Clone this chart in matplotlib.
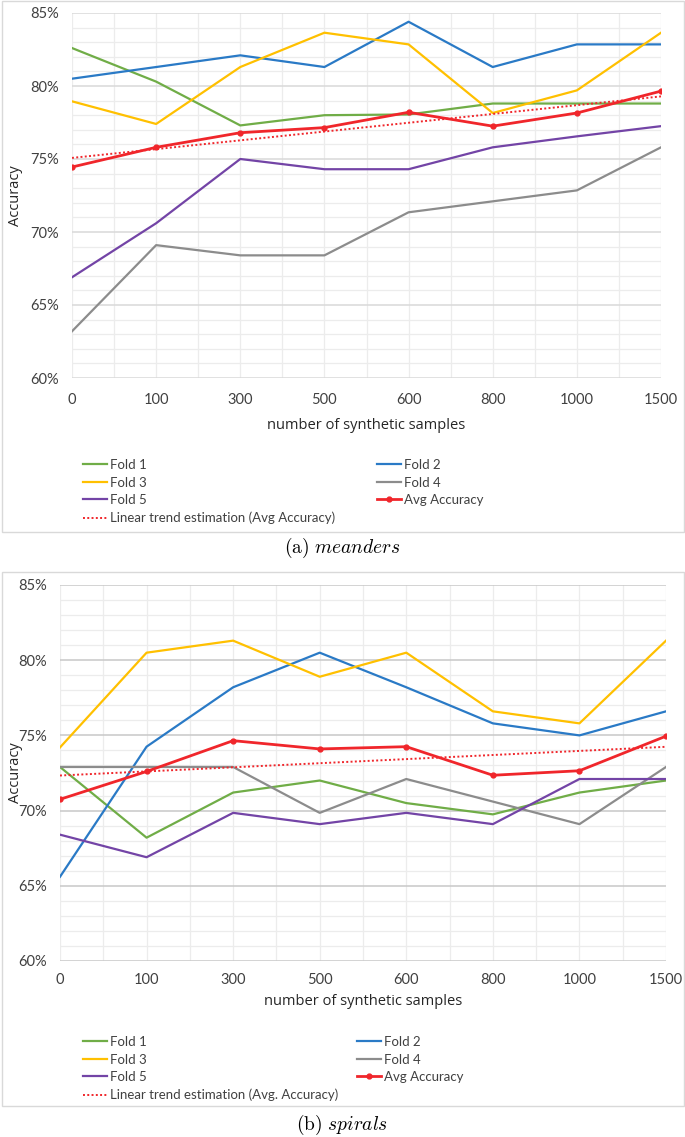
import numpy as np
import matplotlib
matplotlib.use("Agg")
import matplotlib.pyplot as plt
from matplotlib.patches import Rectangle
from matplotlib.ticker import MultipleLocator, FuncFormatter

plt.rcParams['mathtext.fontset'] = 'cm'

# ---------------- data ----------------
categories = ["0", "100", "300", "500", "600", "800", "1000", "1500"]

# (a) meanders
m_fold1 = [82.6, 80.3, 77.3, 78.0, 78.05, 78.8, 78.8, 78.8]
m_fold2 = [80.5, 81.3, 82.1, 81.3, 84.4, 81.3, 82.85, 82.85]
m_fold3 = [78.95, 77.4, 81.3, 83.65, 82.85, 78.15, 79.7, 83.65]
m_fold4 = [63.2, 69.1, 68.4, 68.4, 71.35, 72.1, 72.85, 75.8]
m_fold5 = [66.9, 70.6, 75.0, 74.3, 74.3, 75.8, 76.55, 77.25]
m_avg = [74.45, 75.8, 76.8, 77.15, 78.2, 77.25, 78.15, 79.65]

# (b) spirals
s_fold1 = [72.9, 68.2, 71.2, 72.0, 70.5, 69.75, 71.2, 72.0]
s_fold2 = [65.6, 74.25, 78.2, 80.5, 78.2, 75.8, 75.0, 76.6]
s_fold3 = [74.2, 80.5, 81.3, 78.9, 80.5, 76.6, 75.8, 81.3]
s_fold4 = [72.9, 72.9, 72.9, 69.85, 72.1, 70.6, 69.1, 72.9]
s_fold5 = [68.4, 66.9, 69.85, 69.1, 69.85, 69.1, 72.1, 72.1]
s_avg = [70.75, 72.6, 74.65, 74.1, 74.25, 72.35, 72.65, 74.95]

yticks = [60, 65, 70, 75, 80, 85]

# ---------------- styling ----------------
C_GREEN = "#70ad47"
C_BLUE = "#2a7ac6"
C_YELLOW = "#ffc000"
C_GRAY = "#8c8c8c"
C_PURPLE = "#7344a6"
C_RED = "#f0262b"

W, H = 685, 1137
fig = plt.figure(figsize=(W / 100, H / 100), dpi=100)


def fx(px):
    return px / W


def fy(py):
    return 1 - py / H


def panel(ax_box, folds, avg, trend_label, major_grid, leg_y, col_spacing,
          border, caption, cap_y, tick_pad_x, xlab_pad):
    l, t, r, b = ax_box
    ax = fig.add_axes([fx(l), fy(b), fx(r - l), (b - t) / H])
    x = np.arange(len(categories))
    names = ["Fold 1", "Fold 2", "Fold 3", "Fold 4", "Fold 5"]
    colors = [C_GREEN, C_BLUE, C_YELLOW, C_GRAY, C_PURPLE]
    handles = {}
    for name, vals, c in zip(names, folds, colors):
        h, = ax.plot(x, vals, color=c, lw=1.6, label=name, zorder=3)
        handles[name] = h
    h_avg, = ax.plot(x, avg, color=C_RED, lw=2.0, marker='o', ms=3.5,
                     label="Avg Accuracy", zorder=5)
    coef = np.polyfit(x, avg, 1)
    h_tr, = ax.plot(x, np.polyval(coef, x), color=C_RED, lw=1.4,
                    linestyle=(0, (1, 1.2)), label=trend_label, zorder=4)

    ax.set_xlim(0, len(categories) - 1)
    ax.set_ylim(60, 85)
    ax.set_xticks(x)
    ax.set_xticklabels(categories)
    ax.xaxis.set_minor_locator(MultipleLocator(0.5))
    ax.set_yticks(yticks)
    ax.yaxis.set_major_formatter(FuncFormatter(lambda v, p: f"{v:.0f}%"))
    ax.yaxis.set_minor_locator(MultipleLocator(1))
    ax.grid(True, which='minor', color='#ececec', lw=0.9, zorder=0)
    ax.grid(True, which='major', axis='x', color='#ececec', lw=0.9, zorder=0)
    ax.grid(True, which='major', axis='y', color=major_grid, lw=1.1, zorder=1)
    for s in ax.spines.values():
        s.set_visible(False)
    ax.tick_params(which='both', length=0)
    ax.tick_params(axis='y', pad=9.5, labelsize=10.5, labelcolor='#404040')
    ax.tick_params(axis='x', pad=tick_pad_x, labelsize=10.5, labelcolor='#404040')
    for lab in ax.get_xticklabels() + ax.get_yticklabels():
        lab.set_family('Lato')
    ax.set_xlabel("number of synthetic samples", family='Open Sans',
                  fontsize=10.5, color='#262626', labelpad=xlab_pad)
    ax.set_ylabel("Accuracy", family='Open Sans', fontsize=10.5, color='#262626')
    ax.yaxis.set_label_coords(fx(23 - l) / fx(r - l), 0.5)

    order = [handles["Fold 1"], handles["Fold 3"], handles["Fold 5"], h_tr,
             handles["Fold 2"], handles["Fold 4"], h_avg]
    leg = fig.legend(handles=order, labels=[h.get_label() for h in order],
                     ncol=2, loc='upper left',
                     bbox_to_anchor=(fx(83), fy(leg_y)), frameon=False,
                     prop={'family': 'Lato', 'size': 9.5},
                     handlelength=1.8, handletextpad=0.25,
                     columnspacing=col_spacing, labelspacing=0.42,
                     borderpad=0, borderaxespad=0)
    for t_ in leg.get_texts():
        t_.set_color('#404040')

    bl, bt, br, bb = border
    fig.patches.append(Rectangle((fx(bl), fy(bb)), fx(br - bl), (bb - bt) / H,
                                 transform=fig.transFigure, fill=False,
                                 edgecolor='#d9d9d9', lw=1.0, zorder=0))
    fig.text(0.5, fy(cap_y), caption, ha='center', va='center', fontsize=14)
    return ax


panel((72, 13, 661, 378), [m_fold1, m_fold2, m_fold3, m_fold4, m_fold5], m_avg,
      "Linear trend estimation (Avg Accuracy)", '#d9d9d9', 459, 3.2,
      (1.5, 1.5, 683.5, 532), r"$\mathrm{(a)}\ meanders$", 548, 11, 8)

panel((60, 585, 666, 961), [s_fold1, s_fold2, s_fold3, s_fold4, s_fold5], s_avg,
      "Linear trend estimation (Avg. Accuracy)", '#c8c8c8', 1036, 1.4,
      (1.5, 572, 683.5, 1106), r"$\mathrm{(b)}\ spirals$", 1125, 9, 5)

fig.savefig("out.png", dpi=100)
